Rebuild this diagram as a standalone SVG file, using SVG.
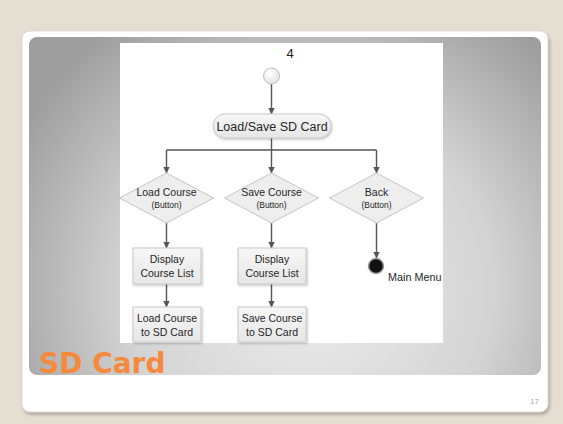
<svg xmlns="http://www.w3.org/2000/svg" width="563" height="424" viewBox="0 0 563 424">
<defs>
<radialGradient id="panelG" cx="310" cy="290" r="330" gradientUnits="userSpaceOnUse">
<stop offset="0" stop-color="#ededed"/>
<stop offset="0.55" stop-color="#d4d4d4"/>
<stop offset="1" stop-color="#9e9e9e"/>
</radialGradient>
<linearGradient id="boxG" x1="0" y1="0" x2="0" y2="1">
<stop offset="0" stop-color="#f7f7f7"/>
<stop offset="1" stop-color="#e6e6e6"/>
</linearGradient>
<radialGradient id="startG" cx="0.4" cy="0.35" r="0.7">
<stop offset="0" stop-color="#ffffff"/>
<stop offset="1" stop-color="#e2e2e2"/>
</radialGradient>
<marker id="arr" markerWidth="8" markerHeight="8" refX="6" refY="4" orient="auto" markerUnits="userSpaceOnUse">
<path d="M0,0.8 L6.5,4 L0,7.2 Z" fill="#555555"/>
</marker>
<filter id="sh" x="-10%" y="-10%" width="130%" height="130%">
<feDropShadow dx="1" dy="1.2" stdDeviation="0.8" flood-color="#000" flood-opacity="0.25"/>
</filter>
<filter id="cardSh" x="-5%" y="-5%" width="110%" height="110%">
<feDropShadow dx="1.5" dy="2.5" stdDeviation="1.5" flood-color="#6b655c" flood-opacity="0.45"/>
</filter>
</defs>
<style>
.t{font-family:"Liberation Sans",Arial,sans-serif;fill:#262626;text-anchor:middle}
.s{font-size:8.5px}
.b{font-size:10.5px}
.box{fill:url(#boxG);stroke:#c9c9c9;stroke-width:1}
.dia{fill:#eeeeee;stroke:#c4c4c4;stroke-width:1}
.c{stroke:#555555;stroke-width:1.4;fill:none}
</style>
<rect x="0" y="0" width="563" height="424" fill="#e4ded3"/>
<rect x="22" y="31" width="526" height="381" rx="8" fill="#ffffff" stroke="#d8d8d8" stroke-width="0.8" filter="url(#cardSh)"/>
<rect x="29" y="37" width="512" height="338" rx="8" fill="url(#panelG)"/>
<rect x="120" y="43" width="323" height="300" fill="#ffffff"/>
<text x="290" y="58" class="t" style="font-size:13px;fill:#222">4</text>
<g id="connectors">
<line x1="271.5" y1="84" x2="271.5" y2="114" class="c" marker-end="url(#arr)"/>
<polyline points="271.5,138 271.5,150" class="c"/>
<line x1="166.5" y1="150" x2="376.5" y2="150" class="c"/>
<line x1="166.5" y1="150" x2="166.5" y2="173" class="c" marker-end="url(#arr)"/>
<line x1="271.5" y1="150" x2="271.5" y2="173" class="c" marker-end="url(#arr)"/>
<line x1="376.5" y1="150" x2="376.5" y2="173" class="c" marker-end="url(#arr)"/>
<line x1="166.5" y1="223" x2="166.5" y2="248" class="c" marker-end="url(#arr)"/>
<line x1="271.5" y1="223" x2="271.5" y2="248" class="c" marker-end="url(#arr)"/>
<line x1="376.5" y1="223" x2="376.5" y2="258" class="c" marker-end="url(#arr)"/>
<line x1="166.5" y1="284" x2="166.5" y2="307" class="c" marker-end="url(#arr)"/>
<line x1="271.5" y1="284" x2="271.5" y2="307" class="c" marker-end="url(#arr)"/>
</g>
<g id="start">
<circle cx="271.5" cy="76" r="8" fill="url(#startG)" stroke="#bdbdbd" stroke-width="1"/>
</g>
<g id="loadsave">
<rect x="213" y="114" width="118" height="24" rx="12" class="box" filter="url(#sh)"/>
<text x="272" y="131" class="t" style="font-size:12.5px">Load/Save SD Card</text>
</g>
<g id="loadBtn">
<polygon points="166.5,173 213.5,198 166.5,223 119.5,198" class="dia"/>
<text x="166.5" y="196" class="t b">Load Course</text>
<text x="166.5" y="208" class="t s">(Button)</text>
</g>
<g id="saveBtn">
<polygon points="271.5,173 318.5,198 271.5,223 224.5,198" class="dia"/>
<text x="271.5" y="196" class="t b">Save Course</text>
<text x="271.5" y="208" class="t s">(Button)</text>
</g>
<g id="backBtn">
<polygon points="376.5,173 423.5,198 376.5,223 329.5,198" class="dia"/>
<text x="376.5" y="196" class="t b">Back</text>
<text x="376.5" y="208" class="t s">(Button)</text>
</g>
<g id="display1">
<rect x="133" y="248" width="68" height="36" class="box" filter="url(#sh)"/>
<text x="167" y="263" class="t b">Display</text>
<text x="167" y="277" class="t b">Course List</text>
</g>
<g id="display2">
<rect x="238" y="248" width="68" height="36" class="box" filter="url(#sh)"/>
<text x="272" y="263" class="t b">Display</text>
<text x="272" y="277" class="t b">Course List</text>
</g>
<g id="loadSD">
<rect x="133" y="307" width="68" height="35" class="box" filter="url(#sh)"/>
<text x="167" y="322" class="t b">Load Course</text>
<text x="167" y="336" class="t b">to SD Card</text>
</g>
<g id="saveSD">
<rect x="238" y="307" width="68" height="35" class="box" filter="url(#sh)"/>
<text x="272" y="322" class="t b">Save Course</text>
<text x="272" y="336" class="t b">to SD Card</text>
</g>
<g id="mainMenu">
<circle cx="376" cy="266" r="7.5" fill="#111111" stroke="#9a9a9a" stroke-width="1.5"/>
<text x="388" y="281" class="t" style="font-size:10.8px;text-anchor:start">Main Menu</text>
</g>
<text x="39" y="373" style="font-family:'DejaVu Sans',Verdana,sans-serif;font-weight:bold;font-size:28px;fill:#f68a3c">SD Card</text>
<text x="539" y="404" style="font-family:'Liberation Sans',Arial,sans-serif;font-size:8px;fill:#a6a6a6;text-anchor:end">17</text>
</svg>
